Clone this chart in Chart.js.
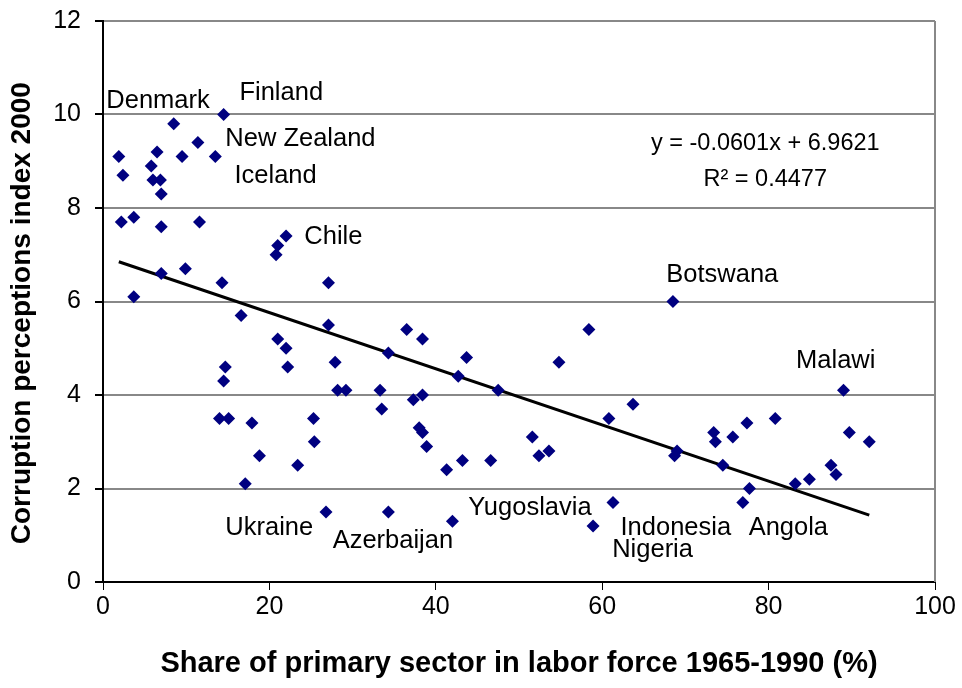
<!DOCTYPE html>
<html>
<head>
<meta charset="utf-8">
<script src="https://cdn.jsdelivr.net/npm/chart.js@4/dist/chart.umd.min.js"></script>
<style>
  html, body { margin: 0; padding: 0; background: #fff; }
  #wrap { width: 962px; height: 688px; }
</style>
</head>
<body>
<div id="wrap"><canvas id="cpiChart"></canvas></div>
<script>
// share of primary sector (%) and CPI 2000
const shareX = [14.5, 8.5, 11.4, 6.5, 1.9, 9.5, 13.5, 5.8, 2.4, 6.0, 6.9, 7.0, 2.2, 3.7, 7.0, 11.6,
  22.0, 21.0, 20.8, 7.0, 9.9, 14.3, 27.1, 3.7, 16.6, 27.1, 21.0, 22.0, 27.9, 14.7, 22.2, 14.5,
  28.2, 29.2, 33.3, 33.5, 14.0, 15.1, 25.3, 17.9, 25.4, 18.8, 23.4, 17.1, 26.8, 34.3, 34.3,
  68.5, 36.5, 58.4, 38.4, 43.7, 54.8, 42.7, 47.5, 38.4, 37.3, 63.7, 60.8, 38.0, 38.4, 38.9,
  51.6, 52.4, 53.6, 43.2, 46.6, 41.3, 68.7, 69.0, 61.3, 42.0, 58.9,
  89.0, 80.8, 77.4, 73.4, 89.7, 73.6, 75.7, 92.1, 74.5, 87.5, 88.1, 83.2, 84.9, 77.7, 76.9];
const cpiY = [10.0, 9.8, 9.4, 9.2, 9.1, 9.1, 9.1, 8.9, 8.7, 8.6, 8.6, 8.3, 7.7, 7.8, 7.6, 7.7,
  7.4, 7.2, 7.0, 6.6, 6.7, 6.4, 6.4, 6.1, 5.7, 5.5, 5.2, 5.0, 4.7, 4.6, 4.6, 4.3,
  4.1, 4.1, 4.1, 3.7, 3.5, 3.5, 3.5, 3.4, 3.0, 2.7, 2.5, 2.1, 1.5, 1.5, 4.9,
  6.0, 5.4, 5.4, 5.2, 4.8, 4.7, 4.4, 4.1, 4.0, 3.9, 3.8, 3.5, 3.3, 3.2, 2.9,
  3.1, 2.7, 2.8, 2.6, 2.6, 2.4, 2.7, 2.8, 1.7, 1.3, 1.2,
  4.1, 3.5, 3.4, 3.2, 3.2, 3.0, 3.1, 3.0, 2.5, 2.5, 2.3, 2.1, 2.2, 2.0, 1.7];

// linear trend ends (y = -0.0601x + 6.9621)
const trendX = [1.9, 92.1];
const trendY = [6.85, 1.43];

const xTicks = [0, 20, 40, 60, 80, 100];
const yTicks = [0, 2, 4, 6, 8, 10, 12];

// country names, anchored at left/middle in data units
const countryNames = ['Denmark', 'Finland', 'New Zealand', 'Iceland', 'Chile', 'Botswana', 'Malawi',
  'Ukraine', 'Azerbaijan', 'Yugoslavia', 'Indonesia', 'Nigeria', 'Angola'];
const nameX = [0.4, 16.4, 14.7, 15.8, 24.2, 67.7, 83.3, 14.7, 27.6, 43.9, 62.2, 61.2, 77.6];
const nameY = [10.3, 10.47, 9.48, 8.69, 7.38, 6.57, 4.72, 1.16, 0.88, 1.59, 1.16, 0.69, 1.16];

const eqLines = ['y = -0.0601x + 6.9621', 'R\u00B2 = 0.4477'];
const eqX = 79.6;
const eqY = [9.37, 8.6];

const FONT = '"Liberation Sans", Arial, sans-serif';

const labelPlugin = {
  id: 'labels',
  afterDatasetsDraw(chart) {
    const c = chart.ctx;
    const sx = chart.scales.x, sy = chart.scales.y;
    const a = chart.chartArea;
    c.save();
    // right frame line
    c.strokeStyle = '#888';
    c.lineWidth = 2;
    c.beginPath();
    c.moveTo(a.right, a.top);
    c.lineTo(a.right, a.bottom);
    c.stroke();

    c.fillStyle = '#000';
    c.font = '25.5px ' + FONT;
    c.textAlign = 'left';
    c.textBaseline = 'middle';
    countryNames.forEach((n, i) => {
      c.fillText(n, sx.getPixelForValue(nameX[i]), sy.getPixelForValue(nameY[i]));
    });

    c.font = '23.5px ' + FONT;
    c.textAlign = 'center';
    eqLines.forEach((t, i) => {
      c.fillText(t, sx.getPixelForValue(eqX), sy.getPixelForValue(eqY[i]));
    });
    c.restore();
  }
};

const ctx = document.getElementById('cpiChart').getContext('2d');

new Chart(ctx, {
  type: 'scatter',
  data: {
    datasets: [{
      label: 'CPI',
      data: shareX.map((x, i) => ({ x: x, y: cpiY[i] })),
      pointStyle: 'rectRot',
      pointRadius: 6.5,
      backgroundColor: '#000080',
      borderColor: '#000080',
      borderWidth: 0
    }, {
      type: 'line',
      label: 'trend',
      data: trendX.map((x, i) => ({ x: x, y: trendY[i] })),
      borderColor: '#000',
      borderWidth: 3,
      pointRadius: 0,
      fill: false
    }]
  },
  options: {
    responsive: true,
    maintainAspectRatio: false,
    animation: false,
    layout: {
      padding: { top: 21, right: 27, left: 0, bottom: 0 }
    },
    plugins: {
      legend: { display: false },
      tooltip: { enabled: false }
    },
    scales: {
      x: {
        type: 'linear',
        min: 0,
        max: 100,
        afterFit: s => { s.height = 106; },
        afterBuildTicks: s => { s.ticks = xTicks.map(v => ({ value: v })); },
        grid: {
          drawOnChartArea: false,
          drawTicks: true,
          tickLength: 8,
          tickColor: '#000'
        },
        border: { color: '#000', width: 2 },
        ticks: {
          color: '#000',
          padding: 2,
          maxRotation: 0,
          font: { family: FONT, size: 25 }
        },
        title: {
          display: true,
          text: 'Share of primary sector in labor force 1965-1990 (%)',
          color: '#000',
          font: { family: FONT, size: 29, weight: 'bold' },
          padding: { top: 0, bottom: 7 }
        }
      },
      y: {
        type: 'linear',
        min: 0,
        max: 12,
        afterFit: s => { s.width = 103; },
        afterBuildTicks: s => { s.ticks = yTicks.map(v => ({ value: v })); },
        grid: {
          color: '#888',
          lineWidth: 2,
          drawTicks: true,
          tickLength: 8,
          tickColor: '#000'
        },
        border: { color: '#000', width: 2 },
        ticks: {
          color: '#000',
          padding: 14,
          font: { family: FONT, size: 25, lineHeight: 0.4 }
        },
        title: {
          display: true,
          text: 'Corruption perceptions index 2000   ',
          color: '#000',
          font: { family: FONT, size: 28, weight: 'bold' },
          padding: { top: 5, bottom: 0 }
        }
      }
    }
  },
  plugins: [labelPlugin]
});
</script>
</body>
</html>
